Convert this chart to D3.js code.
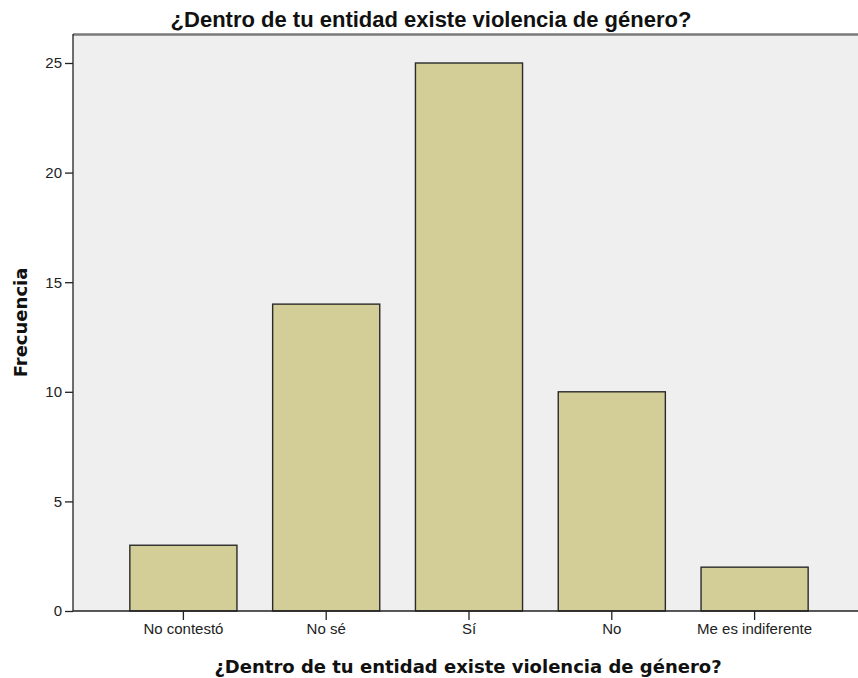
<!DOCTYPE html>
<html><head><meta charset="utf-8">
<script src="https://cdn.jsdelivr.net/npm/d3@7"></script>
<style>body{margin:0;background:#fff}</style>
</head><body>
<svg id="c" width="858" height="678"></svg>
<script>
const categories = ["No contestó","No sé","Sí","No","Me es indiferente"];
const values = [3,14,25,10,2];
const yTicks = [0,5,10,15,20,25];
const titleText = "¿Dentro de tu entidad existe violencia de género?";
const xTitle = "¿Dentro de tu entidad existe violencia de género?";
const yTitle = "Frecuencia";

const svg = d3.select("#c");
const L = 73, R = 858, T = 34, B = 611;
const x = d3.scaleBand().domain(categories).range([112, 826]).paddingInner(0.25).paddingOuter(0.125);
const y = d3.scaleLinear().domain([0, 25]).range([B, 63]);

svg.append("rect").attr("x", L).attr("y", T).attr("width", R - L).attr("height", B - T).attr("fill", "#efefef");
svg.append("line").attr("x1", L).attr("x2", R).attr("y1", T + 0.5).attr("y2", T + 0.5).attr("stroke", "#7a7a7a").attr("stroke-width", 2.5);

svg.selectAll("rect.bar").data(values).join("rect").attr("class","bar")
  .attr("x", (d,i) => x(categories[i]))
  .attr("width", x.bandwidth())
  .attr("y", d => y(d))
  .attr("height", d => B - y(d))
  .attr("fill", "#d3ce97").attr("stroke", "#2a2a2a").attr("stroke-width", 1.4);

const tickFont = "Liberation Sans, Arial, sans-serif";
const ya = svg.append("g").attr("transform", `translate(${L},0)`)
  .call(d3.axisLeft(y).tickValues(yTicks).tickSize(8).tickPadding(3).tickSizeOuter(0));
ya.select(".domain").attr("d", `M0,${T}V${B}`).attr("stroke", "#222").attr("stroke-width", 1.3);
ya.selectAll("text").attr("font-family", tickFont).attr("font-size", 15).attr("fill", "#222");
ya.selectAll(".tick line").attr("stroke", "#222").attr("stroke-width", 1.3);

const xa = svg.append("g").attr("transform", `translate(0,${B})`)
  .call(d3.axisBottom(x).tickSize(9).tickPadding(3).tickSizeOuter(0));
xa.select(".domain").attr("d", `M${L},0H${R}`).attr("stroke", "#222").attr("stroke-width", 1.3);
xa.selectAll("text").attr("font-family", tickFont).attr("font-size", 15).attr("fill", "#222");
xa.selectAll(".tick line").attr("stroke", "#222").attr("stroke-width", 1.3);

svg.append("text").attr("x", 431).attr("y", 27).attr("text-anchor", "middle")
  .attr("font-family", "Liberation Sans, Arial, sans-serif").attr("font-size", 22).attr("font-weight", "bold").attr("fill", "#111").text(titleText);
svg.append("text").attr("x", 468).attr("y", 673).attr("text-anchor", "middle")
  .attr("font-family", "DejaVu Sans, sans-serif").attr("font-size", 18).attr("font-weight", "bold").attr("fill", "#111").text(xTitle);
svg.append("text").attr("transform", `translate(27,${(T+B)/2}) rotate(-90)`).attr("text-anchor", "middle")
  .attr("font-family", "DejaVu Sans, sans-serif").attr("font-size", 18).attr("font-weight", "bold").attr("fill", "#111").text(yTitle);
</script>
</body></html>
